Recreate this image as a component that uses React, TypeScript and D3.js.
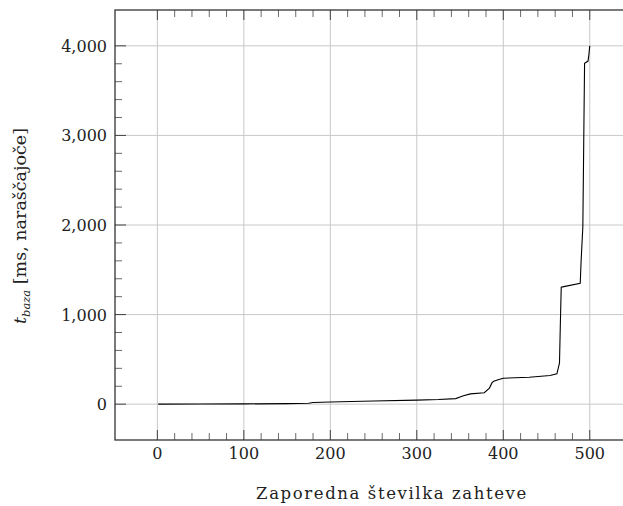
import React from "react";
import * as d3 from "d3";

const width = 623;
const height = 506;
// plot box (right edge lies outside the picture, as in the reference)
const box = { left: 115, top: 10, right: 633, bottom: 440 };

// sorted response times: request rank -> t_baza [ms]
const ranks = [1, 50, 100, 150, 175, 180, 200, 250, 300, 325, 345, 350, 354, 362, 378, 384, 387, 389, 394, 400, 430, 454, 462, 465, 466, 467, 470, 489, 490, 492, 493, 494, 498, 499, 500];
const times = [1, 2, 3, 6, 10, 18, 25, 35, 45, 52, 62, 80, 95, 115, 128, 180, 240, 255, 272, 290, 300, 320, 338, 460, 900, 1305, 1312, 1350, 1600, 1980, 2900, 3805, 3830, 3900, 4000];

const xTicks = [0, 100, 200, 300, 400, 500];
const yTicks = [0, 1000, 2000, 3000, 4000];

const font = "'DejaVu Serif', serif";

export default function App() {
  const x = d3.scaleLinear().domain([-49, 550]).range([box.left, box.right]);
  const y = d3.scaleLinear().domain([-400, 4400]).range([box.bottom, box.top]);

  const xMinor = d3.range(0, 500, 20).filter((v) => v % 100 !== 0);
  const yMinor = d3.range(0, 4000, 200).filter((v) => v % 1000 !== 0);

  const line = d3
    .line<number>()
    .x((d, i) => x(ranks[i]))
    .y((d) => y(d));

  const fmt = d3.format(",");

  return (
    <svg
      width={width}
      height={height}
      style={{ position: "absolute", left: 0, top: 0, background: "#fff" }}
    >
      {/* grid */}
      {xTicks.map((t) => (
        <line key={"gx" + t} x1={x(t)} x2={x(t)} y1={box.top} y2={box.bottom} stroke="#c8c8c8" strokeWidth={1} />
      ))}
      {yTicks.map((t) => (
        <line key={"gy" + t} x1={box.left} x2={box.right} y1={y(t)} y2={y(t)} stroke="#c8c8c8" strokeWidth={1} />
      ))}

      {/* ticks, all inside */}
      {xTicks.map((t) => (
        <g key={"tx" + t} stroke="#444" strokeWidth={1}>
          <line x1={x(t)} x2={x(t)} y1={box.bottom} y2={box.bottom - 10} />
          <line x1={x(t)} x2={x(t)} y1={box.top} y2={box.top + 10} />
        </g>
      ))}
      {xMinor.map((t) => (
        <g key={"mx" + t} stroke="#444" strokeWidth={0.8}>
          <line x1={x(t)} x2={x(t)} y1={box.bottom} y2={box.bottom - 7} />
          <line x1={x(t)} x2={x(t)} y1={box.top} y2={box.top + 7} />
        </g>
      ))}
      {yTicks.map((t) => (
        <line key={"ty" + t} x1={box.left} x2={box.left + 11} y1={y(t)} y2={y(t)} stroke="#444" strokeWidth={1} />
      ))}
      {yMinor.map((t) => (
        <line key={"my" + t} x1={box.left} x2={box.left + 7} y1={y(t)} y2={y(t)} stroke="#444" strokeWidth={0.8} />
      ))}

      {/* data */}
      <path d={line(times) || ""} fill="none" stroke="#000" strokeWidth={1.1} />

      {/* axis box */}
      <rect
        x={box.left}
        y={box.top}
        width={box.right - box.left}
        height={box.bottom - box.top}
        fill="none"
        stroke="#333"
        strokeWidth={1.3}
      />

      {/* tick labels */}
      {xTicks.map((t) => (
        <text key={"lx" + t} x={x(t)} y={459} textAnchor="middle" fontFamily={font} fontSize={16} fill="#222">
          {fmt(t)}
        </text>
      ))}
      {yTicks.map((t) => (
        <text key={"ly" + t} x={107} y={y(t) + 6} textAnchor="end" fontFamily={font} fontSize={16} fill="#222">
          {fmt(t)}
        </text>
      ))}

      {/* axis labels */}
      <text x={392} y={499} textAnchor="middle" fontFamily={font} fontSize={16.5} letterSpacing={1.6} fill="#222">
        Zaporedna številka zahteve
      </text>
      <text
        transform={"translate(26,226) rotate(-90)"}
        textAnchor="middle"
        fontFamily={font}
        fontSize={17.5}
        fill="#222"
      >
        <tspan fontStyle="italic">t</tspan>
        <tspan fontStyle="italic" fontSize={11.5} dy={4}>baza</tspan>
        <tspan dy={-4}> [ms, naraščajoče]</tspan>
      </text>
    </svg>
  );
}
